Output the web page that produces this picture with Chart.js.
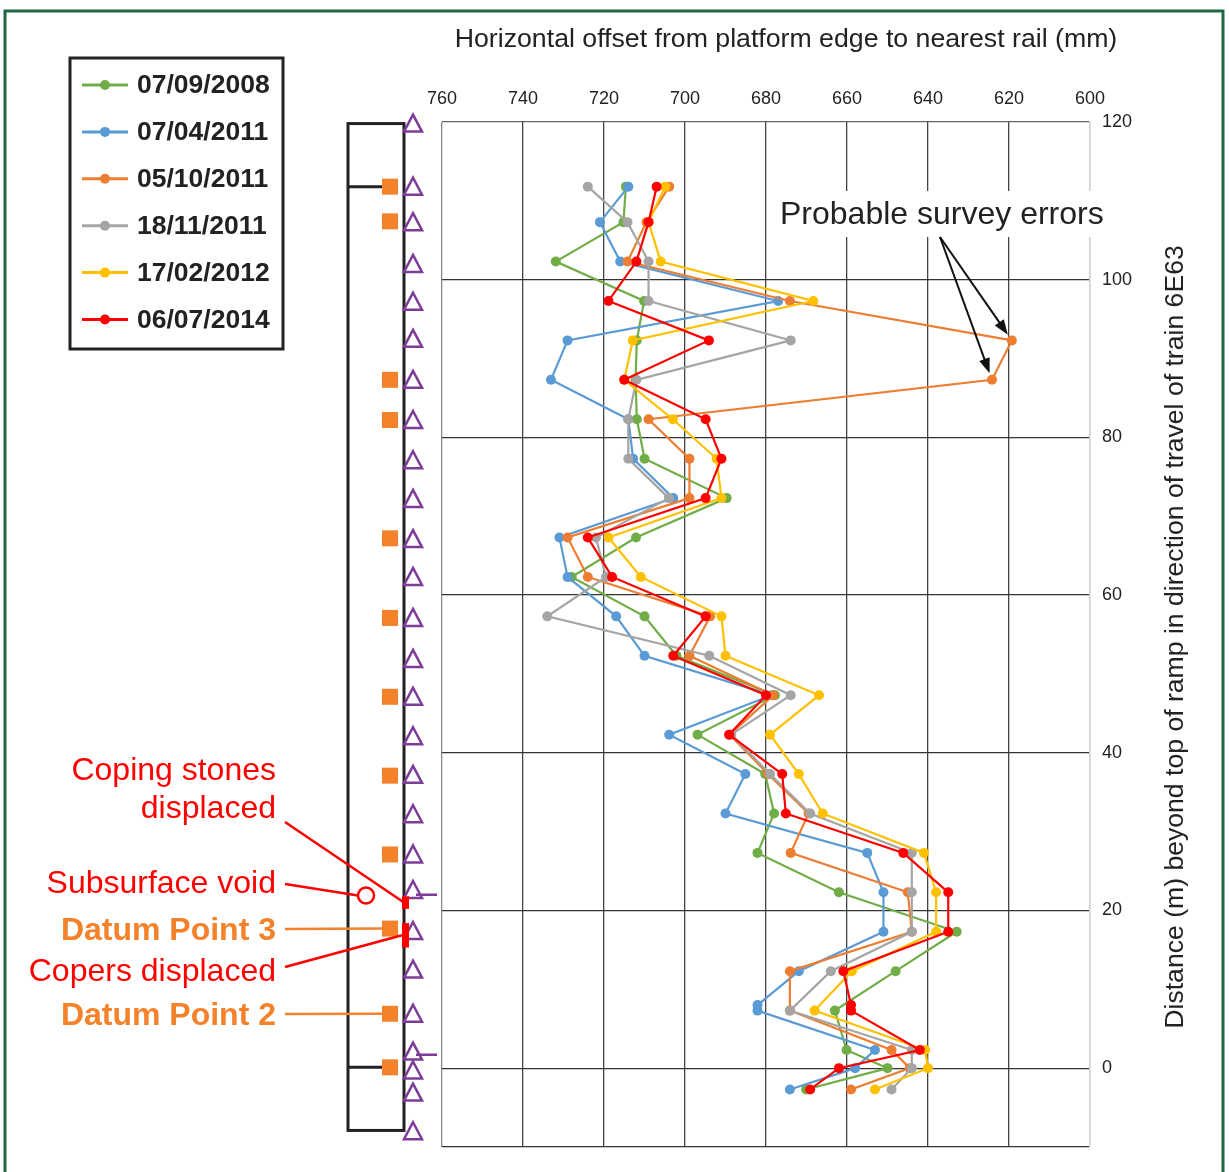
<!DOCTYPE html>
<html>
<head>
<meta charset="utf-8">
<script src="https://cdn.jsdelivr.net/npm/chart.js@4.4.1/dist/chart.umd.min.js"></script>
<style>
body { margin: 0; background: #fff; }
#wrap { position: relative; width: 1229px; height: 1172px; }
</style>
</head>
<body>
<div id="wrap"><canvas id="grafica" width="1229" height="1172"></canvas></div>
<script>
// fechas de cada levantamiento
const fechas = ["07/09/2008", "07/04/2011", "05/10/2011", "18/11/2011", "17/02/2012", "06/07/2014"]
const colores = ["#70ad47", "#5b9bd5", "#ed7d31", "#a5a5a5", "#ffc000", "#ff0000"]

// distancia (m) de cada medición
const distancias = [111.8, 107.3, 102.3, 97.3, 92.3, 87.3, 82.3, 77.3, 72.3, 67.3, 62.3, 57.3, 52.3,
    47.3, 42.3, 37.3, 32.3, 27.3, 22.3, 17.3, 12.3, 8.0, 7.3, 2.3, 0, -2.7]

// offset horizontal (mm), null = sin medición
const serie2008 = [714.6, 715.2, 731.9, 710.1, 711.9, 712.2, 711.9, 710.0, 689.7, 712.1, 728.0, 710.0, 702.1,
    677.8, 696.9, 680.2, 678.0, 682.1, 662.0, 632.9, 648.0, null, 663.0, 660.1, 650.0, 670.1]
const serieAbr2011 = [714.0, 721.0, 716.0, 677.0, 729.0, 733.1, 714.0, 712.8, 702.9, 731.0, 729.0, 717.0, 710.0,
    678.6, 703.9, 685.1, 690.0, 655.0, 651.0, 651.0, 671.9, 682.1, 682.1, 653.1, 658.0, 674.1]
const serieOct2011 = [703.9, 709.5, 714.2, 674.1, 619.3, 624.2, 709.0, 698.9, 698.9, 729.0, 724.0, 693.8, 698.9,
    678.2, 689.0, 679.5, 669.5, 673.9, 645.0, 644.0, 674.1, null, 674.1, 649.0, 644.5, 659.0]
const serieNov2011 = [724.0, 714.2, 709.0, 709.0, 673.9, 712.0, 714.0, 714.0, 704.0, 722.0, 719.5, 734.0, 694.0,
    673.9, 688.6, 679.0, 669.1, 644.0, 644.0, 644.0, 664.0, null, 674.1, 644.0, 644.0, 649.0]
const serie2012 = [704.9, 709.0, 706.0, 668.3, 712.9, 715.0, 703.0, 692.2, 691.0, 718.9, 710.9, 691.0, 690.0,
    666.9, 679.0, 671.9, 666.0, 641.0, 638.0, 638.0, 658.8, null, 668.0, 640.7, 640.0, 653.1]
const serie2014 = [707.0, 709.0, 712.0, 718.9, 694.1, 715.0, 694.9, 691.0, 694.9, 724.0, 718.0, 694.9, 702.9,
    680.0, 689.1, 676.0, 675.1, 646.1, 635.0, 635.0, 660.9, 659.0, 659.0, 642.0, 662.0, 669.1]
const series = [serie2008, serieAbr2011, serieOct2011, serieNov2011, serie2012, serie2014]

// ticks
const ticksX = [760, 740, 720, 700, 680, 660, 640, 620, 600]
const ticksY = [120, 100, 80, 60, 40, 20, 0]

// esquema del andén (distancias en m)
const andenLimites = [119.8, -7.9]
const andenDivisiones = [111.8, 0.1]
const marcas = [119.8, 111.8, 107.3, 102.0, 97.2, 92.5, 87.3, 82.2, 77.1, 72.2, 67.1, 62.3, 57.1, 51.9,
    47.1, 42.1, 37.2, 32.2, 27.1, 22.6, 17.4, 12.5, 6.9, 2.1, -0.3, -3.1, -8.0]
const guiones = [22.0, 1.7]
const datums = [111.8, 107.4, 87.3, 82.2, 67.2, 57.1, 47.1, 37.1, 27.1, 17.7, 6.9, 0.1]
const vacio = 21.9
const copingStones = [21.8, 20.2]
const copers = [18.4, 15.3]
const errores = [4, 5] // indices en serieOct2011

const fuente = '"Liberation Sans", Arial, sans-serif'
Chart.defaults.font.family = fuente
Chart.defaults.color = "#222"

const datasets = series.map((s, i) => ({
    label: fechas[i],
    data: distancias.map((d, j) => ({ x: s[j], y: d })).filter(p => p.x !== null),
    borderColor: colores[i],
    backgroundColor: colores[i],
    borderWidth: 2.2,
    pointRadius: 5,
    pointBorderWidth: 0,
    showLine: true,
    order: 6 - i
}))

const esquema = {
    id: "esquema",
    beforeDraw(chart) {
        const ctx = chart.ctx
        ctx.save()
        ctx.fillStyle = "#fff"
        ctx.fillRect(0, 0, chart.width, chart.height)
        ctx.strokeStyle = "#1d6b45"
        ctx.lineWidth = 3
        ctx.strokeRect(5, 11, 1218, 1180)
        ctx.restore()
    },
    afterDraw(chart) {
        const ctx = chart.ctx
        const ys = chart.scales.y
        const xs = chart.scales.x
        const Y = v => ys.getPixelForValue(v)
        ctx.save()

        // andén
        ctx.strokeStyle = "#222"
        ctx.lineWidth = 3
        ctx.strokeRect(348, Y(andenLimites[0]), 56, Y(andenLimites[1]) - Y(andenLimites[0]))
        ctx.beginPath()
        andenDivisiones.forEach(v => { ctx.moveTo(348, Y(v)); ctx.lineTo(392, Y(v)) })
        ctx.stroke()

        ctx.fillStyle = "#f4822a"
        datums.forEach(v => ctx.fillRect(382, Y(v) - 8, 16, 16))

        ctx.strokeStyle = "#7d3c98"
        ctx.lineWidth = 2.5
        marcas.forEach(v => {
            const y = Y(v)
            ctx.beginPath()
            ctx.moveTo(413, y - 9)
            ctx.lineTo(422, y + 8)
            ctx.lineTo(404, y + 8)
            ctx.closePath()
            ctx.stroke()
        })
        ctx.beginPath()
        guiones.forEach(v => { ctx.moveTo(416, Y(v)); ctx.lineTo(437, Y(v)) })
        ctx.stroke()

        // defectos
        ctx.fillStyle = "#ff0000"
        ctx.fillRect(402, Y(copingStones[0]), 7, Y(copingStones[1]) - Y(copingStones[0]))
        ctx.fillRect(402, Y(copers[0]), 7, Y(copers[1]) - Y(copers[0]))
        ctx.strokeStyle = "#ff0000"
        ctx.lineWidth = 2.5
        ctx.beginPath()
        ctx.arc(366, Y(vacio), 8, 0, Math.PI * 2)
        ctx.fillStyle = "#fff"
        ctx.fill()
        ctx.stroke()

        // líneas guía
        const guia = (x1, y1, x2, y2, color) => {
            ctx.strokeStyle = color
            ctx.beginPath(); ctx.moveTo(x1, y1); ctx.lineTo(x2, y2); ctx.stroke()
        }
        guia(285, 822, 404, Y((copingStones[0] + copingStones[1]) / 2), "#ff0000")
        guia(285, 884, 358, Y(vacio), "#ff0000")
        guia(285, 929, 382, Y(datums[9]), "#f4822a")
        guia(285, 967, 402, Y((copers[0] + copers[1]) / 2), "#ff0000")
        guia(285, 1014, 382, Y(datums[10]), "#f4822a")

        ctx.textAlign = "right"
        ctx.textBaseline = "middle"
        ctx.fillStyle = "#ff0000"
        ctx.font = "32px " + fuente
        ctx.fillText("Coping stones", 276, 771)
        ctx.fillText("displaced", 276, 809)
        ctx.fillText("Subsurface void", 276, 884)
        ctx.fillText("Copers displaced", 276, 972)
        ctx.fillStyle = "#f4822a"
        ctx.font = "bold 32px " + fuente
        ctx.fillText("Datum Point 3", 276, 931)
        ctx.fillText("Datum Point 2", 276, 1016)

        // errores probables
        ctx.fillStyle = "#fff"
        ctx.fillRect(774, 191, 334, 46)
        ctx.fillStyle = "#222"
        ctx.textAlign = "left"
        ctx.font = "32px " + fuente
        ctx.fillText("Probable survey errors", 780, 215)
        ctx.strokeStyle = "#111"
        ctx.fillStyle = "#111"
        ctx.lineWidth = 2
        errores.forEach(j => {
            const px = xs.getPixelForValue(serieOct2011[j])
            const py = Y(distancias[j])
            const x0 = 940, y0 = 237
            const d = Math.hypot(px - x0, py - y0)
            const ux = (px - x0) / d, uy = (py - y0) / d
            const tx = px - ux * 7, ty = py - uy * 7
            ctx.beginPath(); ctx.moveTo(x0, y0); ctx.lineTo(tx - ux * 10, ty - uy * 10); ctx.stroke()
            ctx.beginPath()
            ctx.moveTo(tx, ty)
            ctx.lineTo(tx - ux * 15 - uy * 5.5, ty - uy * 15 + ux * 5.5)
            ctx.lineTo(tx - ux * 15 + uy * 5.5, ty - uy * 15 - ux * 5.5)
            ctx.closePath()
            ctx.fill()
        })

        // títulos de ejes
        ctx.textAlign = "center"
        ctx.fillStyle = "#222"
        ctx.font = "26.7px " + fuente
        ctx.fillText("Horizontal offset from platform edge to nearest rail (mm)", 786, 40)
        ctx.save()
        ctx.translate(1176, 637)
        ctx.rotate(-Math.PI / 2)
        ctx.font = "26.6px " + fuente
        ctx.fillText("Distance (m) beyond top of ramp in direction of travel of train 6E63", 0, 0)
        ctx.restore()

        // leyenda
        ctx.strokeStyle = "#222"
        ctx.lineWidth = 3
        ctx.strokeRect(70, 58, 213, 291)
        chart.data.datasets.forEach((ds, i) => {
            const y = 85 + i * 46.9
            ctx.strokeStyle = ds.borderColor
            ctx.lineWidth = 3
            ctx.beginPath(); ctx.moveTo(82, y); ctx.lineTo(128, y); ctx.stroke()
            ctx.fillStyle = ds.borderColor
            ctx.beginPath(); ctx.arc(105, y, 5, 0, Math.PI * 2); ctx.fill()
            ctx.fillStyle = "#222"
            ctx.textAlign = "left"
            ctx.font = "bold 26.5px " + fuente
            ctx.fillText(ds.label, 137, y + 1)
        })
        ctx.restore()
    }
}

const colorGridX = c => c.tick.value === 600 ? "#cfcfcf" : (c.tick.value === 760 ? "#888" : "#444")
const colorGridY = c => c.tick.value === 120 ? "#666" : "#333"

new Chart(document.querySelector("#grafica"), {
    type: "scatter",
    data: { datasets: datasets },
    options: {
        responsive: false,
        animation: false,
        layout: { padding: { left: 442, right: 0, top: 0, bottom: 25 } },
        plugins: { legend: { display: false }, tooltip: { enabled: false } },
        scales: {
            x: {
                type: "linear",
                position: "top",
                reverse: true,
                min: 600,
                max: 760,
                afterBuildTicks: s => { s.ticks = ticksX.map(v => ({ value: v })) },
                afterFit: s => { s.height = 122 },
                ticks: { font: { size: 18 }, color: "#222", padding: 12 },
                grid: { color: colorGridX, lineWidth: 1.3, drawTicks: false },
                border: { display: false }
            },
            y: {
                type: "linear",
                position: "right",
                min: -10,
                max: 120,
                afterBuildTicks: s => { s.ticks = [-10].concat(ticksY.slice().reverse()).map(v => ({ value: v })) },
                afterFit: s => { s.width = 139 },
                ticks: { font: { size: 18 }, color: "#222", padding: 12, callback: v => v === -10 ? "" : v },
                grid: { color: colorGridY, lineWidth: 1.3, drawTicks: false },
                border: { display: true, color: "#cfcfcf", width: 1.5 }
            }
        }
    },
    plugins: [esquema]
})
</script>
</body>
</html>
